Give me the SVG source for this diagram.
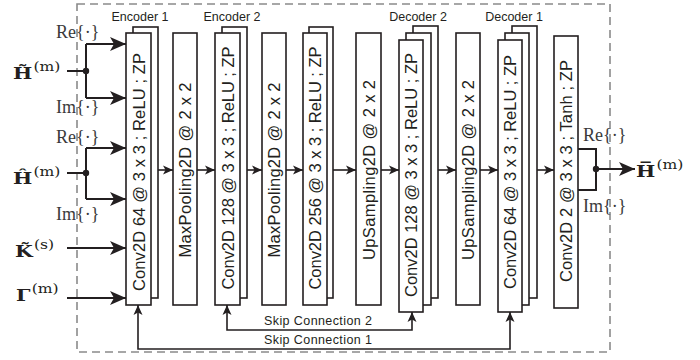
<svg xmlns="http://www.w3.org/2000/svg" width="700" height="360" viewBox="0 0 700 360">
<style>
.box{fill:#fff;stroke:#231f20;stroke-width:1.6}
.bt{font-family:"Liberation Sans",Arial,sans-serif;font-size:16.5px;fill:#231f20;text-anchor:middle}
.lbl{font-family:"Liberation Sans",Arial,sans-serif;font-size:12.5px;fill:#231f20;text-anchor:middle}
.ln{fill:none;stroke:#231f20;stroke-width:2}
.lm{fill:none;stroke:#231f20;stroke-width:1.6}
.m{font-family:"DejaVu Serif","Liberation Serif",serif;fill:#231f20}
.mb{font-weight:bold;font-size:17px}
.sup{font-size:13px}
.ri{font-family:"Liberation Serif","DejaVu Serif",serif;font-size:18px;fill:#3a3a3a}
</style>
<defs>
<marker id="big" markerUnits="userSpaceOnUse" markerWidth="18" markerHeight="14" refX="16" refY="7" orient="auto">
<path d="M0,0 L16,7 L0,14 L4,7 z" fill="#231f20"/>
</marker>
<marker id="sm" markerUnits="userSpaceOnUse" markerWidth="11" markerHeight="10" refX="10" refY="5" orient="auto-start-reverse">
<path d="M0,0.5 L10,5 L0,9.5 L2.5,5 z" fill="#231f20"/>
</marker>
</defs>

<rect x="77" y="4" width="533" height="348" fill="none" stroke="#8a8a8a" stroke-width="1.6" stroke-dasharray="8,5"/>

<g id="enc1">
<rect class="box" x="133" y="27" width="25" height="271"/>
<rect class="box" x="126" y="33" width="25" height="272"/>
<text class="bt" transform="translate(144.5,172) rotate(-90)" textLength="238">Conv2D  64 @ 3 x 3 ; ReLU ; ZP</text>
<text class="lbl" x="140" y="21">Encoder 1</text>
</g>
<g id="mp1">
<rect class="box" x="173" y="33" width="24" height="272"/>
<text class="bt" transform="translate(191,170) rotate(-90)" textLength="175">MaxPooling2D @ 2 x 2</text>
</g>
<g id="enc2">
<rect class="box" x="222" y="27" width="25" height="271"/>
<rect class="box" x="215" y="33" width="25" height="272"/>
<text class="bt" transform="translate(233.5,168) rotate(-90)" textLength="243">Conv2D  128 @ 3 x 3 ; ReLU ; ZP</text>
<text class="lbl" x="232" y="21">Encoder 2</text>
</g>
<g id="mp2">
<rect class="box" x="262" y="33" width="24" height="272"/>
<text class="bt" transform="translate(280,170) rotate(-90)" textLength="175">MaxPooling2D @ 2 x 2</text>
</g>
<g id="conv256">
<rect class="box" x="309" y="27" width="24" height="271"/>
<rect class="box" x="303" y="33" width="24" height="272"/>
<text class="bt" transform="translate(321,168) rotate(-90)" textLength="243">Conv2D  256 @ 3 x 3 ; ReLU ; ZP</text>
</g>
<g id="up1">
<rect class="box" x="356" y="33" width="25" height="272"/>
<text class="bt" transform="translate(374.5,170) rotate(-90)" textLength="180">UpSampling2D @ 2 x 2</text>
</g>
<g id="dec2">
<rect class="box" x="413" y="26" width="25" height="272"/>
<rect class="box" x="406" y="33" width="25" height="272"/>
<rect class="box" x="399" y="40" width="24" height="272"/>
<text class="bt" transform="translate(417,175) rotate(-90)" textLength="244">Conv2D  128 @ 3 x 3 ; ReLU ; ZP</text>
<text class="lbl" x="418" y="21">Decoder 2</text>
</g>
<g id="up2">
<rect class="box" x="456" y="33" width="24" height="272"/>
<text class="bt" transform="translate(474,170) rotate(-90)" textLength="180">UpSampling2D @ 2 x 2</text>
</g>
<g id="dec1">
<rect class="box" x="512" y="26" width="25" height="272"/>
<rect class="box" x="505" y="33" width="24" height="272"/>
<rect class="box" x="498" y="40" width="24" height="272"/>
<text class="bt" transform="translate(516,172) rotate(-90)" textLength="234">Conv2D  64 @ 3 x 3 ; ReLU ; ZP</text>
<text class="lbl" x="514" y="21">Decoder 1</text>
</g>
<g id="final">
<rect class="box" x="554" y="36" width="24" height="272"/>
<text class="bt" transform="translate(572,171) rotate(-90)" textLength="222">Conv2D  2 @ 3 x 3 ; Tanh ; ZP</text>
</g>

<g id="in-htilde">
<text class="m" transform="translate(13,79) scale(1.2,1)"><tspan class="mb">H̃</tspan><tspan class="sup" dx="1" dy="-8">(m)</tspan></text>
<text class="ri" x="56" y="38">Re{·}</text>
<text class="ri" x="56" y="113">Im{·}</text>
</g>
<g id="in-hhat">
<text class="m" transform="translate(13,184) scale(1.2,1)"><tspan class="mb">Ĥ</tspan><tspan class="sup" dx="1" dy="-8">(m)</tspan></text>
<text class="ri" x="56" y="143">Re{·}</text>
<text class="ri" x="56" y="220">Im{·}</text>
</g>
<g id="in-ktilde">
<text class="m" transform="translate(15,257) scale(1.2,1)"><tspan class="mb">K̃</tspan><tspan class="sup" dx="1" dy="-8">(s)</tspan></text>
</g>
<g id="in-gamma">
<text class="m" transform="translate(16,301) scale(1.2,1)"><tspan class="mb">Γ</tspan><tspan class="sup" dx="1" dy="-8">(m)</tspan></text>
</g>
<g id="out-hbar">
<text class="m" transform="translate(636,177) scale(1.2,1)"><tspan class="mb">H̅</tspan><tspan class="sup" dx="1" dy="-8">(m)</tspan></text>
<text class="ri" x="583" y="141">Re{·}</text>
<text class="ri" x="583" y="212">Im{·}</text>
</g>

<g id="connectors">
<path class="ln" d="M67,71 H86 M86,44 V98"/>
<path class="ln" d="M86,44 H126" marker-end="url(#big)"/>
<path class="ln" d="M86,98 H126" marker-end="url(#big)"/>
<circle cx="86" cy="71" r="3.2" fill="#231f20"/>
<path class="ln" d="M67,173 H86 M86,148 V199"/>
<path class="ln" d="M86,148 H126" marker-end="url(#big)"/>
<path class="ln" d="M86,199 H126" marker-end="url(#big)"/>
<circle cx="86" cy="173" r="3.2" fill="#231f20"/>
<path class="ln" d="M67,248 H126" marker-end="url(#big)"/>
<path class="ln" d="M67,298 H126" marker-end="url(#big)"/>

<path class="lm" d="M158,170 H173" marker-end="url(#sm)"/>
<path class="lm" d="M197,170 H215" marker-end="url(#sm)"/>
<path class="lm" d="M247,170 H262" marker-end="url(#sm)"/>
<path class="lm" d="M286,170 H303" marker-end="url(#sm)"/>
<path class="lm" d="M333,170 H356" marker-end="url(#sm)"/>
<path class="lm" d="M381,170 H399" marker-end="url(#sm)"/>
<path class="lm" d="M438,170 H456" marker-end="url(#sm)"/>
<path class="lm" d="M480,170 H498" marker-end="url(#sm)"/>
<path class="lm" d="M537,170 H554" marker-end="url(#sm)"/>

<path class="ln" d="M578,149 H596 V190 H578"/>
<circle cx="596" cy="169" r="3.2" fill="#231f20"/>
<path class="ln" d="M596,169 H635" marker-end="url(#big)"/>

<path class="lm" d="M227,305 V330 H412 V312" marker-start="url(#sm)" marker-end="url(#sm)"/>
<path class="lm" d="M138,305 V349 H510 V312" marker-start="url(#sm)" marker-end="url(#sm)"/>
<text class="lbl" x="318" y="325" textLength="108">Skip Connection 2</text>
<text class="lbl" x="318" y="344" textLength="108">Skip Connection 1</text>
</g>
</svg>
